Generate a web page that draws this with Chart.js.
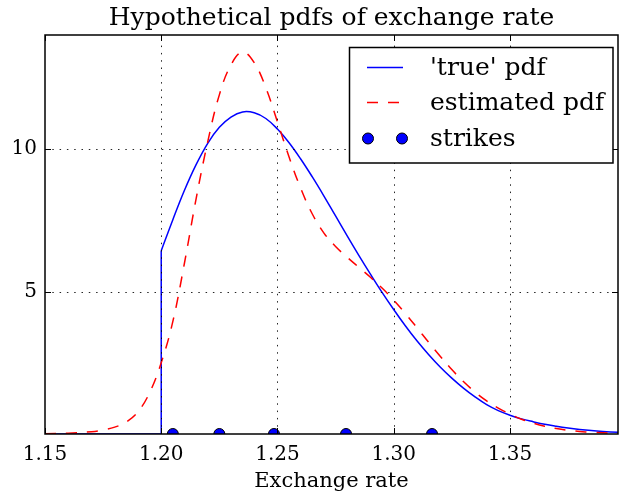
<!DOCTYPE html>
<html>
<head>
<meta charset="utf-8">
<script src="https://cdn.jsdelivr.net/npm/chart.js@4/dist/chart.umd.min.js"></script>
<style>
html,body{margin:0;padding:0;background:#fff;}
#wrap{width:619px;height:497px;position:relative;}
</style>
</head>
<body>
<div id="wrap"><canvas id="c" width="619" height="497"></canvas></div>
<script>
// ---- data ----
const xTicks = [1.15, 1.20, 1.25, 1.30, 1.35];
const yTicks = [5, 10];

// 'true' pdf: flat part and jump at 1.20
const trueJumpX = [1.15, 1.20, 1.20];
const trueJumpY = [0, 0, 6.43];
// 'true' pdf: smooth part
const trueX = [1.200, 1.205, 1.210, 1.215, 1.220, 1.225, 1.230, 1.235, 1.240, 1.245, 1.250, 1.255, 1.260, 1.265, 1.270, 1.275, 1.280, 1.285, 1.290, 1.295, 1.300, 1.305, 1.310, 1.315, 1.320, 1.325, 1.330, 1.335, 1.340, 1.345, 1.350, 1.355, 1.360, 1.365, 1.370, 1.375, 1.380, 1.385, 1.390, 1.3965];
const trueY = [6.43, 7.52, 8.55, 9.45, 10.20, 10.76, 11.12, 11.30, 11.27, 11.07, 10.70, 10.22, 9.65, 9.02, 8.35, 7.65, 6.95, 6.27, 5.61, 4.97, 4.37, 3.80, 3.27, 2.79, 2.35, 1.96, 1.61, 1.30, 1.03, 0.82, 0.66, 0.53, 0.43, 0.34, 0.27, 0.21, 0.16, 0.12, 0.09, 0.06];

// estimated pdf
const estX = [1.150, 1.160, 1.170, 1.175, 1.180, 1.185, 1.190, 1.195, 1.200, 1.205, 1.210, 1.215, 1.220, 1.225, 1.230, 1.235, 1.240, 1.245, 1.250, 1.255, 1.260, 1.265, 1.270, 1.275, 1.280, 1.285, 1.290, 1.295, 1.300, 1.305, 1.310, 1.315, 1.320, 1.325, 1.330, 1.335, 1.340, 1.345, 1.350, 1.355, 1.360, 1.365, 1.370, 1.375, 1.380, 1.385, 1.390, 1.3965];
const estY = [0.01, 0.03, 0.08, 0.14, 0.24, 0.42, 0.78, 1.45, 2.50, 3.95, 6.00, 8.25, 10.25, 11.90, 12.95, 13.40, 13.03, 12.15, 10.95, 9.72, 8.62, 7.72, 7.05, 6.58, 6.20, 5.85, 5.50, 5.12, 4.70, 4.23, 3.73, 3.22, 2.73, 2.26, 1.84, 1.47, 1.16, 0.91, 0.70, 0.52, 0.38, 0.27, 0.19, 0.13, 0.09, 0.06, 0.04, 0.02];

// strikes
const strikeX = [1.205, 1.225, 1.2485, 1.2795, 1.3165];
const strikeY = [0, 0, 0, 0, 0];

const labels = ["'true' pdf", "estimated pdf", "strikes"];
const titleText = "Hypothetical pdfs of exchange rate";
const xLabel = "Exchange rate";

const FONT = "'DejaVu Serif', serif";
const zip = (xs, ys) => xs.map((x, i) => ({x: x, y: ys[i]}));

// ---- plugin: dotted grid, inward ticks, spines, legend ----
const decor = {
  id: 'decor',
  afterDatasetsDraw(chart) {
    const ctx = chart.ctx;
    const a = chart.chartArea;
    const xs = chart.scales.x, ys = chart.scales.y;
    ctx.save();
    // grid
    ctx.strokeStyle = 'rgba(0,0,0,0.85)';
    ctx.lineWidth = 1;
    ctx.setLineDash([1.5, 5.8]);
    xTicks.forEach(v => {
      const px = Math.round(xs.getPixelForValue(v)) + 0.5;
      if (px <= a.left + 1 || px >= a.right - 1) return;
      ctx.beginPath(); ctx.moveTo(px, a.bottom); ctx.lineTo(px, a.top); ctx.stroke();
    });
    yTicks.forEach(v => {
      const py = Math.round(ys.getPixelForValue(v)) + 0.5;
      if (py <= a.top + 1 || py >= a.bottom - 1) return;
      ctx.beginPath(); ctx.moveTo(a.left, py); ctx.lineTo(a.right, py); ctx.stroke();
    });
    ctx.setLineDash([]);
    // inward ticks
    ctx.strokeStyle = '#000';
    ctx.lineWidth = 1;
    const tl = 6;
    xTicks.forEach(v => {
      const px = Math.round(xs.getPixelForValue(v)) + 0.5;
      ctx.beginPath(); ctx.moveTo(px, a.bottom); ctx.lineTo(px, a.bottom - tl); ctx.stroke();
      ctx.beginPath(); ctx.moveTo(px, a.top); ctx.lineTo(px, a.top + tl); ctx.stroke();
    });
    yTicks.forEach(v => {
      const py = Math.round(ys.getPixelForValue(v)) + 0.5;
      ctx.beginPath(); ctx.moveTo(a.left, py); ctx.lineTo(a.left + tl, py); ctx.stroke();
      ctx.beginPath(); ctx.moveTo(a.right, py); ctx.lineTo(a.right - tl, py); ctx.stroke();
    });
    // spines
    ctx.lineWidth = 1.5;
    ctx.strokeRect(a.left, a.top, a.right - a.left, a.bottom - a.top);

    // legend
    const lx = 349.5, ly = 47.5, lw = 263.5, lh = 115.5;
    ctx.fillStyle = '#fff';
    ctx.fillRect(lx, ly, lw, lh);
    ctx.lineWidth = 1.5;
    ctx.strokeStyle = '#000';
    ctx.strokeRect(lx, ly, lw, lh);
    const rows = [67.5, 102.5, 138.5];
    const hx0 = 367, hx1 = 403, tx = 430;
    const ds = chart.data.datasets;
    const entries = [ds[2], ds[1], ds[0]];
    ctx.font = "25px " + FONT;
    ctx.textBaseline = 'middle';
    ctx.textAlign = 'left';
    entries.forEach((d, i) => {
      const y = rows[i];
      if (d.showLine) {
        ctx.strokeStyle = d.borderColor;
        ctx.lineWidth = d.borderWidth;
        ctx.setLineDash(d.borderDash || []);
        ctx.beginPath(); ctx.moveTo(hx0, y); ctx.lineTo(hx1, y); ctx.stroke();
        ctx.setLineDash([]);
      } else {
        [hx0 + 1, hx1 - 1].forEach(cx => {
          ctx.beginPath(); ctx.arc(cx, y, d.pointRadius, 0, Math.PI * 2);
          ctx.fillStyle = d.backgroundColor; ctx.fill();
          ctx.lineWidth = d.pointBorderWidth; ctx.strokeStyle = d.borderColor; ctx.stroke();
        });
      }
      ctx.fillStyle = '#000';
      ctx.fillText(d.label, tx, y + 1);
    });
    ctx.restore();
  }
};

new Chart(document.getElementById('c'), {
  type: 'scatter',
  data: {
    datasets: [
      {
        label: labels[2], data: zip(strikeX, strikeY), showLine: false,
        pointRadius: 5.5, pointHoverRadius: 5.5, pointBorderWidth: 1,
        backgroundColor: '#0000ff', borderColor: '#000000', clip: 0
      },
      {
        label: labels[1], data: zip(estX, estY), showLine: true,
        borderColor: '#ff0000', borderWidth: 1.5, borderDash: [11, 10],
        pointRadius: 0, tension: 0.4, fill: false
      },
      {
        label: labels[0], data: zip(trueX, trueY), showLine: true,
        borderColor: '#0000ff', borderWidth: 1.5,
        pointRadius: 0, tension: 0.4, fill: false
      },
      {
        label: '', data: zip(trueJumpX, trueJumpY), showLine: true,
        borderColor: '#0000ff', borderWidth: 1.5, pointRadius: 0, tension: 0, fill: false
      }
    ]
  },
  options: {
    responsive: false,
    animation: false,
    devicePixelRatio: 1,
    layout: { autoPadding: false, padding: { top: 0, right: 1, bottom: 3, left: 0 } },
    plugins: {
      legend: { display: false },
      tooltip: { enabled: false },
      title: {
        display: true, text: titleText, fullSize: false, color: '#000',
        font: { family: FONT, size: 25, weight: 'normal', lineHeight: 1.2 },
        padding: { top: 3, bottom: 2 }
      }
    },
    scales: {
      x: {
        type: 'linear', min: 1.15, max: 1.3965,
        afterBuildTicks: s => { s.ticks = xTicks.map(v => ({ value: v })); },
        afterFit: s => { s.height = 60; s.paddingLeft = 0; s.paddingRight = 0; },
        grid: { display: false, drawTicks: false },
        border: { display: false },
        ticks: {
          color: '#000', padding: 9, maxRotation: 0, autoSkip: false,
          font: { family: FONT, size: 20 },
          callback: v => Number(v).toFixed(2)
        },
        title: {
          display: true, text: xLabel, color: '#000',
          font: { family: FONT, size: 21 }, padding: { top: 0, bottom: 0 }
        }
      },
      y: {
        min: 0, max: 14,
        afterBuildTicks: s => { s.ticks = yTicks.map(v => ({ value: v })); },
        afterFit: s => { s.width = 45; },
        grid: { display: false, drawTicks: false },
        border: { display: false },
        ticks: {
          color: '#000', padding: 8,
          font: { family: FONT, size: 20 },
          callback: v => String(v)
        }
      }
    }
  },
  plugins: [decor]
});
</script>
</body>
</html>
